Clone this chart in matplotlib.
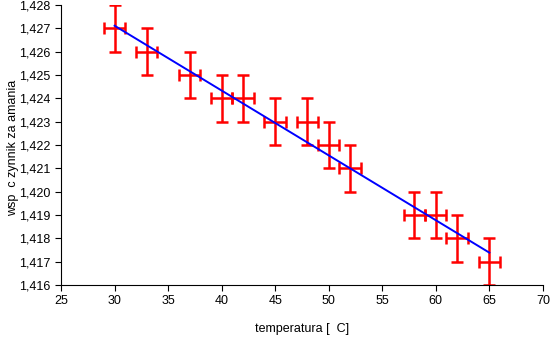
import numpy as np
import matplotlib
matplotlib.use('agg')
import matplotlib.pyplot as plt
from matplotlib.ticker import FuncFormatter

plt.rcParams.update({
    'font.family': ['Liberation Sans', 'DejaVu Sans'],
    'font.size': 9,
})

# measurements: temperature [C] and refractive index
temp = [30, 33, 37, 40, 42, 45, 48, 50, 52, 58, 60, 62, 65]
n_idx = [1.427, 1.426, 1.425, 1.424, 1.424, 1.423, 1.423, 1.422, 1.421,
         1.419, 1.419, 1.418, 1.417]
temp_err = 1.0
n_err = 0.001

x_ticks = [25, 30, 35, 40, 45, 50, 55, 60, 65, 70]
y_ticks = [1.416, 1.417, 1.418, 1.419, 1.420, 1.421, 1.422, 1.423, 1.424,
           1.425, 1.426, 1.427, 1.428]

fig = plt.figure(figsize=(5.5, 3.38), dpi=100)
ax = fig.add_axes([0.111, 0.157, 0.876, 0.828])

# linear fit over the measured range
a, b = np.polyfit(temp, n_idx, 1)
xf = np.array([min(temp), max(temp)])
ax.plot(xf, a * xf + b, color='#0000ff', lw=1.4, zorder=3)

ax.errorbar(temp, n_idx, xerr=temp_err, yerr=n_err, fmt='none',
            ecolor='#ff0000', elinewidth=1.8, capsize=4, capthick=1.8,
            zorder=2)

ax.set_xlim(25, 70)
ax.set_ylim(1.416, 1.428)
ax.set_xticks(x_ticks)
ax.set_yticks(y_ticks)
ax.yaxis.set_major_formatter(FuncFormatter(lambda v, p: f'{v:.3f}'.replace('.', ',')))

for s in ['top', 'right']:
    ax.spines[s].set_visible(False)
for s in ['left', 'bottom']:
    ax.spines[s].set_linewidth(0.8)
ax.tick_params(direction='out', length=4, width=0.8, colors='black', labelsize=9)

ax.set_xlabel('temperatura [  C]', labelpad=11)
ax.set_ylabel('wsp  c zynnik za amania', fontsize=9)
ax.yaxis.set_label_coords(-0.088, 0.49)

fig.savefig('out.png', dpi=100)
